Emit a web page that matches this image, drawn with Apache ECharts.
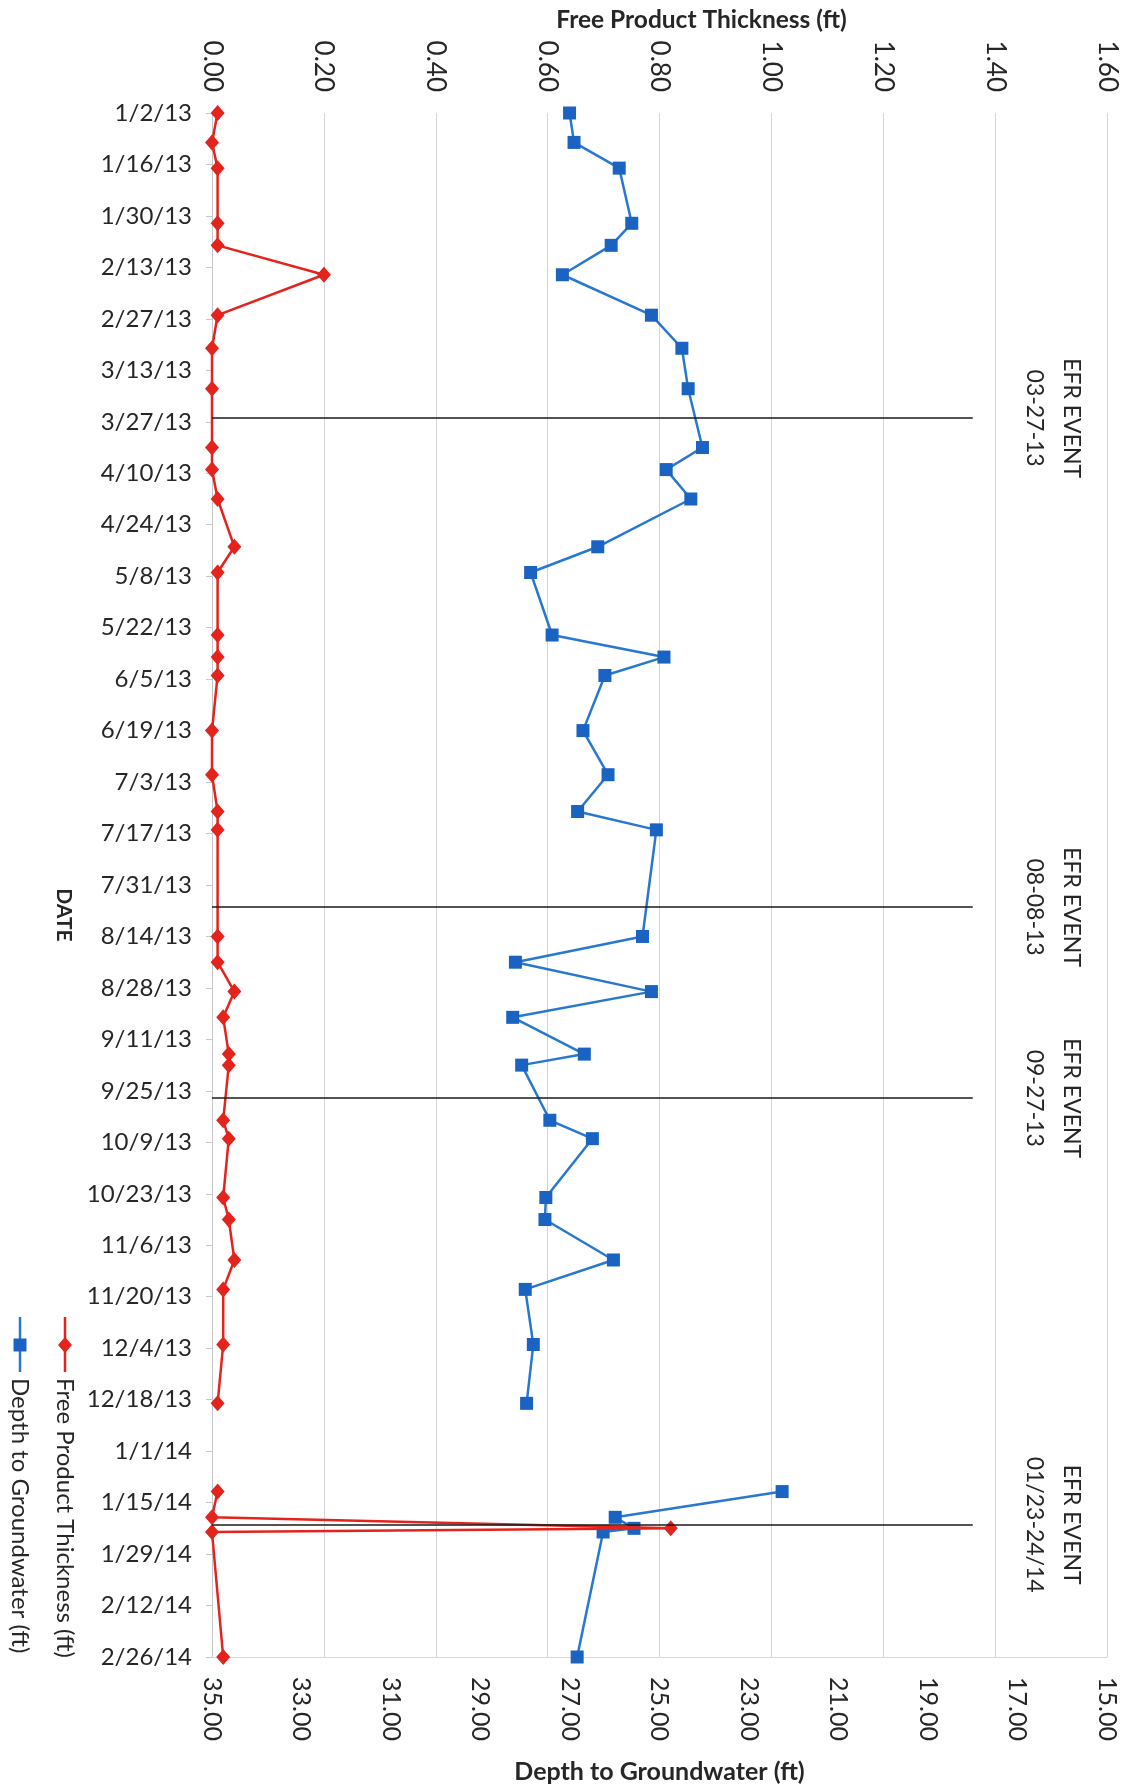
<!DOCTYPE html>
<html><head><meta charset="utf-8">
<script src="https://cdn.jsdelivr.net/npm/echarts@6/dist/echarts.min.js"></script>
<style>html,body{margin:0;padding:0;background:#fff}#c{width:1127px;height:1788px}</style>
</head><body><div id="c"></div>
<script>
// ---- data ----
const sampleDates = [
  '2013-01-02','2013-01-10','2013-01-17','2013-02-01','2013-02-07','2013-02-15','2013-02-26','2013-03-07','2013-03-18',
  '2013-04-03','2013-04-09','2013-04-17','2013-04-30','2013-05-07','2013-05-24','2013-05-30','2013-06-04',
  '2013-06-19','2013-07-01','2013-07-11','2013-07-16','2013-08-14','2013-08-21',
  '2013-08-29','2013-09-05','2013-09-15','2013-09-18','2013-10-03','2013-10-08','2013-10-24','2013-10-30','2013-11-10',
  '2013-11-18','2013-12-03','2013-12-19','2014-01-01',
  '2014-01-12','2014-01-19','2014-01-22','2014-01-23','2014-02-26'
];
const freeProductThickness = [
  0.01,0.00,0.01,0.01,0.01,0.20,0.01,0.00,0.00,
  0.00,0.00,0.01,0.04,0.01,0.01,0.01,0.01,
  0.00,0.00,0.01,0.01,0.01,0.01,
  0.04,0.02,0.03,0.03,0.02,0.03,0.02,0.03,0.04,
  0.02,0.02,0.01,null,
  0.01,0.00,0.82,0.00,0.02
];
const depthToGroundwater = [
  27.01,26.91,25.90,25.62,26.08,27.17,25.18,24.50,24.36,
  24.04,24.85,24.30,26.38,27.88,27.40,24.90,26.22,
  26.71,26.15,26.83,25.07,25.38,28.22,
  25.18,28.28,26.68,28.08,27.45,26.50,27.54,27.56,26.03,
  28.00,27.82,27.97,null,
  22.26,25.99,25.57,26.26,26.84
];
const thicknessTicks = [0,0.2,0.4,0.6,0.8,1.0,1.2,1.4,1.6];
const depthTicks = [35,33,31,29,27,25,23,21,19,17,15];
const dateAxisStart = '2013-01-02';
const dateAxisEnd = '2014-02-26';
const dateTickDays = 14;
const efrEventDates = ['2013-03-26','2013-08-06','2013-09-27','2014-01-21'];
const efrEventLabels = ['EFR EVENT\n03-27-13','EFR EVENT\n08-08-13','EFR EVENT\n09-27-13','EFR EVENT\n01/23-24/14'];
const efrLineLength = 1.36; // thickness-axis units

// ---- helpers ----
const DAY = 86400000;
function toUTC(s){const p=s.split('-').map(Number);return Date.UTC(p[0],p[1]-1,p[2]);}
const t0 = toUTC(dateAxisStart);
function dayOf(s){return Math.round((toUTC(s)-t0)/DAY);}
function fmtDay(v){const d=new Date(t0+v*DAY);return (d.getUTCMonth()+1)+'/'+d.getUTCDate()+'/'+String(d.getUTCFullYear()).slice(2);}
const days = sampleDates.map(dayOf);
const FONT = 'Lato, "Open Sans", sans-serif';
const RED = '#e3231c', BLUE = '#1a63c2', BLUE_LINE = '#2877d0', TXT = '#262626';

const chart = echarts.init(document.getElementById('c'), null, {renderer:'canvas'});
const option = {
  animation:false,
  backgroundColor:'#fff',
  textStyle:{fontFamily:FONT},
  grid:{left:212,right:20,top:113,bottom:131,outerBoundsMode:'none'},
  xAxis:[{
    type:'value', position:'top', min:thicknessTicks[0], max:thicknessTicks[thicknessTicks.length-1], interval:0.2,
    axisLine:{show:false}, axisTick:{show:false},
    splitLine:{show:true,lineStyle:{color:'#d4d4d4',width:1}},
    axisLabel:{rotate:-90,margin:21,fontSize:26,color:TXT,fontFamily:FONT,formatter:v=>v.toFixed(2)},
    name:'Free Product Thickness (ft)', nameLocation:'middle', nameGap:80, nameMoveOverlap:false,
    nameTextStyle:{fontSize:24.5,fontWeight:'bold',color:TXT,fontFamily:FONT,padding:[0,0,0,84]}
  },{
    type:'value', position:'bottom', min:15, max:35, inverse:true,
    axisLine:{show:true,lineStyle:{color:'#d9d9d9',width:1}}, axisTick:{show:false},
    splitLine:{show:false},
    axisLabel:{customValues:depthTicks,rotate:-90,margin:20,fontSize:25,color:TXT,fontFamily:FONT,formatter:v=>v.toFixed(2)},
    name:'Depth to Groundwater (ft)', nameLocation:'middle', nameGap:102, nameMoveOverlap:false,
    nameTextStyle:{fontSize:25,fontWeight:'bold',color:TXT,fontFamily:FONT}
  }],
  yAxis:[{
    type:'value', inverse:true, min:0, max:dayOf(dateAxisEnd), interval:dateTickDays,
    axisLine:{show:true,lineStyle:{color:'#c8c8c8',width:1}},
    axisTick:{show:true,length:6,lineStyle:{color:'#c8c8c8'}},
    splitLine:{show:false},
    axisLabel:{margin:20,fontSize:24,color:TXT,fontFamily:FONT,formatter:fmtDay}
  }],
  series:[{
    name:'Free Product Thickness (ft)', type:'line', xAxisIndex:0, yAxisIndex:0,
    data: days.map((d,i)=>[freeProductThickness[i]==null?'-':freeProductThickness[i], d]),
    symbol:'diamond', symbolSize:[14,16], connectNulls:false,
    lineStyle:{color:RED,width:2.5}, itemStyle:{color:RED}, z:3,
    markLine:{silent:true,symbol:'none',label:{show:false},
      lineStyle:{color:'#1a1a1a',width:1.6,type:'solid'},
      data: efrEventDates.map(s=>[{coord:[0,dayOf(s)]},{coord:[efrLineLength,dayOf(s)]}])}
  },{
    name:'Depth to Groundwater (ft)', type:'line', xAxisIndex:1, yAxisIndex:0,
    data: days.map((d,i)=>[depthToGroundwater[i]==null?'-':depthToGroundwater[i], d]),
    symbol:'rect', symbolSize:13, connectNulls:false,
    lineStyle:{color:BLUE_LINE,width:2.5}, itemStyle:{color:BLUE}, z:2
  }]
};
chart.setOption(option);

// annotations positioned through the chart's own scales
const graphics = [];
efrEventDates.forEach((s,i)=>{
  const p = chart.convertToPixel({xAxisIndex:0,yAxisIndex:0},[1.503,dayOf(s)]);
  graphics.push({type:'text',x:p[0],y:p[1],rotation:-Math.PI/2,silent:true,
    style:{text:efrEventLabels[i],fill:TXT,font:'23px '+FONT,lineHeight:37,align:'center',verticalAlign:'middle'}});
});
graphics.push({type:'text',x:64,y:915,rotation:-Math.PI/2,
  style:{text:'DATE',fill:TXT,font:'bold 21px '+FONT,align:'center',verticalAlign:'middle'}});
// legend
const legendItems = [
  {x:65, color:RED, line:RED, sym:'diamond', label:option.series[0].name},
  {x:20, color:BLUE, line:BLUE_LINE, sym:'rect', label:option.series[1].name}
];
legendItems.forEach(it=>{
  graphics.push({type:'line',shape:{x1:it.x,y1:1317,x2:it.x,y2:1372},style:{stroke:it.line,lineWidth:2.5}});
  if(it.sym==='diamond'){
    graphics.push({type:'polygon',shape:{points:[[it.x,1337],[it.x+7,1345],[it.x,1353],[it.x-7,1345]]},style:{fill:it.color}});
  } else {
    graphics.push({type:'rect',shape:{x:it.x-6.5,y:1338.5,width:13,height:13},style:{fill:it.color}});
  }
  graphics.push({type:'text',x:it.x,y:1378,rotation:-Math.PI/2,
    style:{text:it.label,fill:TXT,font:'24px '+FONT,align:'left',verticalAlign:'middle'}});
});
chart.setOption({graphic:graphics});
</script>
</body></html>
